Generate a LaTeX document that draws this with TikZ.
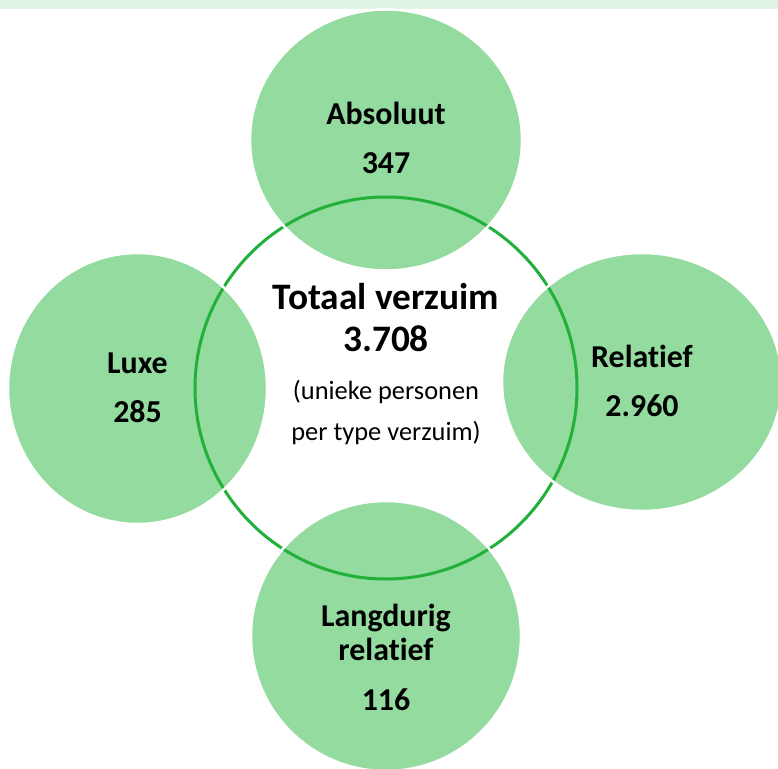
\documentclass[tikz,border=0pt]{standalone}
\usepackage{fontspec}
\setmainfont{Carlito}[Ligatures=NoCommon]
\usetikzlibrary{positioning}
\definecolor{vgreen}{RGB}{147,219,158}
\definecolor{vring}{RGB}{34,176,58}
\definecolor{vstrip}{RGB}{226,244,228}

\begin{document}
\begin{tikzpicture}[x=1bp,y=-1bp,
  blob/.style={fill=vgreen,draw=white,line width=2.5bp},
  ring/.style={draw=vring,line width=3bp},
  lbl/.style={font=\bfseries\fontsize{32}{49}\selectfont,align=center,inner sep=0pt},
  big/.style={font=\bfseries\fontsize{37.5}{42}\selectfont,align=center,inner sep=0pt},
  note/.style={font=\fontsize{26.5}{41}\selectfont,align=center,inner sep=0pt}]
  \useasboundingbox (0,0) rectangle (778,769);
  % ---- top strip ----
  \fill[vstrip] (0,0) rectangle (778,8.7);
  % ---- central ring ----
  \node[circle,ring,fill=white,minimum size=382bp,inner sep=0pt] (tot) at (386,388) {};
  % ---- outer circles, ring redrawn on top inside them ----
  \foreach \cx/\cy/\rx/\ry in {386/140/136/130.5,137.5/388.5/129.5/135.5,
                               642/382/140/129,386/636/135/135}{
    \path[blob] (\cx,\cy) ellipse [x radius=\rx,y radius=\ry];
    \begin{scope}
      \clip (\cx,\cy) ellipse [x radius=\rx-1.5,y radius=\ry-1.5];
      \draw[ring] (tot.center) circle [radius=191];
    \end{scope}
  }
  % ---- labels (base = last line) ----
  \node[lbl,anchor=base] (abs) at (386,173) {Absoluut\\347};
  \node[lbl,anchor=base] (lux) at (137.5,422) {Luxe\\285};
  \node[lbl,anchor=base] (rel) at (642,416) {Relatief\\2.960};
  \node[lbl,anchor=base,font=\bfseries\fontsize{32}{34}\selectfont]
     (lang) at (386,660) {Langdurig\\relatief};
  \node[lbl,anchor=base] (num) at (386,710) {116};
  \node[big,anchor=base] (total) at (386,351) {Totaal verzuim\\3.708};
  \node[note,anchor=base] (uniek) at (386,440) {(unieke personen\\per type verzuim)};
\end{tikzpicture}
\end{document}
